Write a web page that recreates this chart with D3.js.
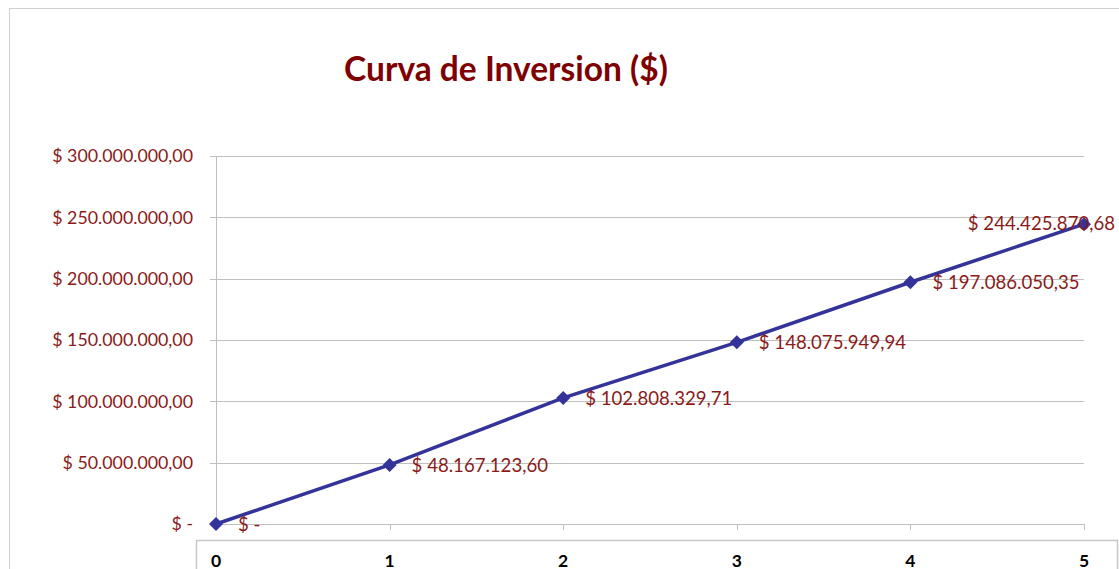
<!DOCTYPE html>
<html><head><meta charset="utf-8">
<script src="https://cdn.jsdelivr.net/npm/d3@7"></script>
<style>body{margin:0;background:#fff;} svg{display:block;}</style>
</head><body>
<script>
const categories = [0, 1, 2, 3, 4, 5];
const values = [0, 48167123.60, 102808329.71, 148075949.94, 197086050.35, 244425870.68];
const valueLabels = ["$ -", "$ 48.167.123,60", "$ 102.808.329,71", "$ 148.075.949,94", "$ 197.086.050,35", "$ 244.425.870,68"];
const yTicks = [0, 50000000, 100000000, 150000000, 200000000, 250000000, 300000000];
const yTickLabels = ["$ -", "$ 50.000.000,00", "$ 100.000.000,00", "$ 150.000.000,00", "$ 200.000.000,00", "$ 250.000.000,00", "$ 300.000.000,00"];
const title = "Curva de Inversion ($)";

const W = 1119, H = 569;
const red = "#8b1a1a", blue = "#333399", grid = "#bfbfbf";
const font = "Lato, 'Open Sans', sans-serif";
const svg = d3.select("body").append("svg").attr("width", W).attr("height", H);

// outer chart border
svg.append("rect").attr("x", 9.5).attr("y", 8.5).attr("width", W + 20).attr("height", H + 20)
  .attr("fill", "none").attr("stroke", "#d0d0d0");

const x = d3.scaleLinear().domain([0, 5]).range([216, 1084]);
const y = d3.scaleLinear().domain([0, 300000000]).range([524, 156]);

// title
svg.append("text").attr("x", 506).attr("y", 81).attr("text-anchor", "middle")
  .attr("font-family", font).attr("font-weight", "bold").attr("font-size", 33.5)
  .attr("fill", "#7f0000").text(title);

// gridlines + y ticks
const gy = svg.append("g").attr("transform", "translate(1084,0)");
gy.call(d3.axisLeft(y).tickValues(yTicks).tickSize(1084 - 210).tickFormat((d, i) => yTickLabels[i]).tickPadding(17));
gy.select(".domain").remove();
gy.selectAll(".tick line").attr("stroke", grid).attr("shape-rendering", "crispEdges");
gy.selectAll(".tick text").attr("fill", red).attr("font-family", font).attr("font-size", 17.8);

// vertical axis line
svg.append("line").attr("x1", 216).attr("x2", 216).attr("y1", 156).attr("y2", 524)
  .attr("stroke", grid).attr("shape-rendering", "crispEdges");

// x axis ticks
const gx = svg.append("g").attr("transform", "translate(0,524)");
gx.call(d3.axisBottom(x).tickValues(categories).tickSize(6).tickFormat(""));
gx.select(".domain").attr("stroke", grid).attr("shape-rendering", "crispEdges");
gx.selectAll(".tick line").attr("stroke", grid).attr("shape-rendering", "crispEdges");

// bottom category box
svg.append("rect").attr("x", 196.5).attr("y", 540.5).attr("width", 921).attr("height", 60)
  .attr("fill", "none").attr("stroke", "#c8c8c8").attr("stroke-width", 1.5);
svg.append("g").selectAll("text").data(categories).join("text")
  .attr("x", d => x(d)).attr("y", 567).attr("text-anchor", "middle")
  .attr("font-family", font).attr("font-weight", "bold").attr("font-size", 17.5).attr("fill", "#000")
  .text(d => d);

// line
svg.append("path").datum(values)
  .attr("d", d3.line().x((d, i) => x(categories[i])).y(d => y(d)))
  .attr("fill", "none").attr("stroke", blue).attr("stroke-width", 3.5);

// markers
svg.append("g").selectAll("path").data(values).join("path")
  .attr("transform", (d, i) => `translate(${x(categories[i])},${y(d)})`)
  .attr("d", "M0,-7L7,0L0,7L-7,0Z").attr("fill", blue);

// data labels
svg.append("g").selectAll("text").data(values).join("text")
  .attr("x", (d, i) => i === 5 ? W - 4 : x(categories[i]) + 22)
  .attr("y", (d, i) => i === 5 ? y(d) + 6 : y(d) + 7)
  .attr("text-anchor", (d, i) => i === 5 ? "end" : "start")
  .attr("font-family", font).attr("font-size", 18.6).attr("fill", red)
  .text((d, i) => valueLabels[i]);
</script>
</body></html>
